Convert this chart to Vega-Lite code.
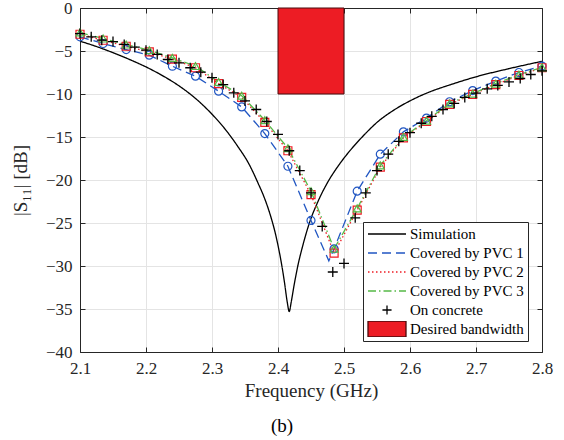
{
  "$schema": "https://vega.github.io/schema/vega-lite/v6.json",
  "width": 462,
  "height": 344,
  "autosize": {"type": "none"},
  "padding": {"left": 80, "top": 8, "right": 22, "bottom": 88},
  "background": "white",
  "title": {"text": "(b)", "orient": "bottom", "anchor": "middle", "dx": -29, "offset": 17, "font": "Liberation Serif", "fontSize": 19, "fontWeight": "normal", "color": "black"},
  "datasets": {
    "sim": [
      {"f": 2.100, "d": -3.86}, {"f": 2.120, "d": -4.35}, {"f": 2.140, "d": -4.9}, {"f": 2.160, "d": -5.5},
      {"f": 2.180, "d": -6.15}, {"f": 2.200, "d": -6.85}, {"f": 2.220, "d": -7.65}, {"f": 2.240, "d": -8.55},
      {"f": 2.260, "d": -9.6}, {"f": 2.280, "d": -10.85}, {"f": 2.300, "d": -12.35}, {"f": 2.320, "d": -14.1},
      {"f": 2.340, "d": -16.2}, {"f": 2.355, "d": -18.0}, {"f": 2.370, "d": -20.4}, {"f": 2.380, "d": -22.2},
      {"f": 2.390, "d": -24.5}, {"f": 2.395, "d": -25.9}, {"f": 2.400, "d": -27.6}, {"f": 2.405, "d": -29.6},
      {"f": 2.410, "d": -32.0}, {"f": 2.414, "d": -34.2}, {"f": 2.417, "d": -35.3}, {"f": 2.420, "d": -34.2},
      {"f": 2.424, "d": -32.4}, {"f": 2.430, "d": -30.0}, {"f": 2.438, "d": -27.5}, {"f": 2.448, "d": -24.9},
      {"f": 2.460, "d": -22.6}, {"f": 2.475, "d": -20.3}, {"f": 2.490, "d": -18.5}, {"f": 2.510, "d": -16.5},
      {"f": 2.530, "d": -14.8}, {"f": 2.550, "d": -13.3}, {"f": 2.575, "d": -11.9}, {"f": 2.600, "d": -10.8},
      {"f": 2.630, "d": -9.75}, {"f": 2.660, "d": -8.95}, {"f": 2.700, "d": -8.0}, {"f": 2.750, "d": -7.05},
      {"f": 2.800, "d": -6.2}
    ],
    "pvc": [
      {"s": "Covered by PVC 1", "f": 2.100, "d": -3.35, "m": 1},
      {"s": "Covered by PVC 1", "f": 2.135, "d": -4.13, "m": 1},
      {"s": "Covered by PVC 1", "f": 2.170, "d": -4.83, "m": 1},
      {"s": "Covered by PVC 1", "f": 2.205, "d": -5.49, "m": 1},
      {"s": "Covered by PVC 1", "f": 2.240, "d": -6.77, "m": 1},
      {"s": "Covered by PVC 1", "f": 2.275, "d": -7.93, "m": 1},
      {"s": "Covered by PVC 1", "f": 2.310, "d": -9.67, "m": 1},
      {"s": "Covered by PVC 1", "f": 2.345, "d": -11.5, "m": 1},
      {"s": "Covered by PVC 1", "f": 2.380, "d": -14.6, "m": 1},
      {"s": "Covered by PVC 1", "f": 2.415, "d": -18.4, "m": 1},
      {"s": "Covered by PVC 1", "f": 2.450, "d": -24.7, "m": 1},
      {"s": "Covered by PVC 1", "f": 2.477, "d": -29.4, "m": 0},
      {"s": "Covered by PVC 1", "f": 2.485, "d": -28.0, "m": 1},
      {"s": "Covered by PVC 1", "f": 2.520, "d": -21.3, "m": 1},
      {"s": "Covered by PVC 1", "f": 2.555, "d": -17.0, "m": 1},
      {"s": "Covered by PVC 1", "f": 2.590, "d": -14.4, "m": 1},
      {"s": "Covered by PVC 1", "f": 2.625, "d": -12.8, "m": 1},
      {"s": "Covered by PVC 1", "f": 2.660, "d": -10.9, "m": 1},
      {"s": "Covered by PVC 1", "f": 2.695, "d": -9.6, "m": 1},
      {"s": "Covered by PVC 1", "f": 2.730, "d": -8.5, "m": 1},
      {"s": "Covered by PVC 1", "f": 2.765, "d": -7.5, "m": 1},
      {"s": "Covered by PVC 1", "f": 2.800, "d": -6.75, "m": 1},
      {"s": "Covered by PVC 2", "f": 2.100, "d": -3.05, "m": 1},
      {"s": "Covered by PVC 2", "f": 2.135, "d": -3.75, "m": 1},
      {"s": "Covered by PVC 2", "f": 2.170, "d": -4.45, "m": 1},
      {"s": "Covered by PVC 2", "f": 2.205, "d": -5.1, "m": 1},
      {"s": "Covered by PVC 2", "f": 2.240, "d": -5.95, "m": 1},
      {"s": "Covered by PVC 2", "f": 2.275, "d": -6.95, "m": 1},
      {"s": "Covered by PVC 2", "f": 2.310, "d": -8.8, "m": 1},
      {"s": "Covered by PVC 2", "f": 2.345, "d": -10.4, "m": 1},
      {"s": "Covered by PVC 2", "f": 2.380, "d": -13.3, "m": 1},
      {"s": "Covered by PVC 2", "f": 2.415, "d": -16.6, "m": 1},
      {"s": "Covered by PVC 2", "f": 2.450, "d": -21.7, "m": 1},
      {"s": "Covered by PVC 2", "f": 2.485, "d": -28.5, "m": 1},
      {"s": "Covered by PVC 2", "f": 2.520, "d": -23.5, "m": 1},
      {"s": "Covered by PVC 2", "f": 2.555, "d": -18.5, "m": 1},
      {"s": "Covered by PVC 2", "f": 2.590, "d": -15.1, "m": 1},
      {"s": "Covered by PVC 2", "f": 2.625, "d": -13.2, "m": 1},
      {"s": "Covered by PVC 2", "f": 2.660, "d": -11.2, "m": 1},
      {"s": "Covered by PVC 2", "f": 2.695, "d": -10.05, "m": 1},
      {"s": "Covered by PVC 2", "f": 2.730, "d": -8.9, "m": 1},
      {"s": "Covered by PVC 2", "f": 2.765, "d": -7.85, "m": 1},
      {"s": "Covered by PVC 2", "f": 2.800, "d": -6.95, "m": 1},
      {"s": "Covered by PVC 3", "f": 2.100, "d": -2.85, "m": 1},
      {"s": "Covered by PVC 3", "f": 2.135, "d": -3.55, "m": 1},
      {"s": "Covered by PVC 3", "f": 2.170, "d": -4.25, "m": 1},
      {"s": "Covered by PVC 3", "f": 2.205, "d": -4.9, "m": 1},
      {"s": "Covered by PVC 3", "f": 2.240, "d": -5.8, "m": 1},
      {"s": "Covered by PVC 3", "f": 2.275, "d": -6.75, "m": 1},
      {"s": "Covered by PVC 3", "f": 2.310, "d": -8.6, "m": 1},
      {"s": "Covered by PVC 3", "f": 2.345, "d": -10.2, "m": 1},
      {"s": "Covered by PVC 3", "f": 2.380, "d": -13.05, "m": 1},
      {"s": "Covered by PVC 3", "f": 2.415, "d": -16.3, "m": 1},
      {"s": "Covered by PVC 3", "f": 2.450, "d": -21.3, "m": 1},
      {"s": "Covered by PVC 3", "f": 2.485, "d": -28.0, "m": 1},
      {"s": "Covered by PVC 3", "f": 2.520, "d": -23.3, "m": 1},
      {"s": "Covered by PVC 3", "f": 2.555, "d": -18.3, "m": 1},
      {"s": "Covered by PVC 3", "f": 2.590, "d": -15.0, "m": 1},
      {"s": "Covered by PVC 3", "f": 2.625, "d": -13.1, "m": 1},
      {"s": "Covered by PVC 3", "f": 2.660, "d": -11.1, "m": 1},
      {"s": "Covered by PVC 3", "f": 2.695, "d": -9.95, "m": 1},
      {"s": "Covered by PVC 3", "f": 2.730, "d": -8.8, "m": 1},
      {"s": "Covered by PVC 3", "f": 2.765, "d": -7.75, "m": 1},
      {"s": "Covered by PVC 3", "f": 2.800, "d": -6.9, "m": 1}
    ],
    "concrete": [
      {"f": 2.100, "d": -2.97}, {"f": 2.117, "d": -3.35}, {"f": 2.133, "d": -3.74}, {"f": 2.150, "d": -3.9},
      {"f": 2.167, "d": -4.24}, {"f": 2.183, "d": -4.55}, {"f": 2.200, "d": -4.9}, {"f": 2.217, "d": -5.4},
      {"f": 2.233, "d": -5.99}, {"f": 2.250, "d": -6.37}, {"f": 2.267, "d": -6.95}, {"f": 2.283, "d": -7.46},
      {"f": 2.300, "d": -8.1}, {"f": 2.317, "d": -8.9}, {"f": 2.333, "d": -9.86}, {"f": 2.350, "d": -10.8},
      {"f": 2.367, "d": -11.8}, {"f": 2.383, "d": -13.2}, {"f": 2.400, "d": -14.7}, {"f": 2.417, "d": -16.6},
      {"f": 2.433, "d": -18.9}, {"f": 2.450, "d": -21.5}, {"f": 2.467, "d": -25.4}, {"f": 2.483, "d": -30.7},
      {"f": 2.500, "d": -29.7}, {"f": 2.517, "d": -24.4}, {"f": 2.533, "d": -21.5}, {"f": 2.550, "d": -18.9},
      {"f": 2.567, "d": -17.0}, {"f": 2.583, "d": -15.5}, {"f": 2.600, "d": -14.5}, {"f": 2.617, "d": -13.4},
      {"f": 2.633, "d": -12.6}, {"f": 2.650, "d": -11.8}, {"f": 2.667, "d": -11.1}, {"f": 2.683, "d": -10.4},
      {"f": 2.700, "d": -9.9}, {"f": 2.717, "d": -9.4}, {"f": 2.733, "d": -9.0}, {"f": 2.750, "d": -8.6},
      {"f": 2.767, "d": -8.2}, {"f": 2.783, "d": -7.73}, {"f": 2.800, "d": -7.3}
    ]
  },
  "resolve": {"axis": {"x": "independent", "y": "independent"}},
  "layer": [
    {
      "data": {"values": [{"f1": 2.4, "f2": 2.5, "d1": 0, "d2": -10}]},
      "mark": {"type": "rect", "fill": "#ED1C24", "stroke": "#4a0a0c", "strokeWidth": 1},
      "encoding": {
        "x": {"field": "f1", "type": "quantitative", "scale": {"domain": [2.1, 2.8], "nice": false, "zero": false},
              "axis": {"title": "Frequency (GHz)", "values": [2.1, 2.2, 2.3, 2.4, 2.5, 2.6, 2.7, 2.8], "format": ".1f", "grid": true, "tickSize": -5, "labelPadding": 13, "titlePadding": 5, "labelFlush": false}},
        "x2": {"field": "f2"},
        "y": {"field": "d1", "type": "quantitative", "scale": {"domain": [-40, 0], "nice": false, "zero": false},
              "axis": {"title": "|S₁₁| [dB]", "values": [-40, -35, -30, -25, -20, -15, -10, -5, 0], "format": "d", "grid": true, "tickSize": -5, "labelPadding": 13, "titlePadding": 15, "labelFlush": false}},
        "y2": {"field": "d2"}
      }
    },
    {
      "data": {"name": "sim"},
      "mark": {"type": "line", "strokeWidth": 1.3, "interpolate": "monotone"},
      "encoding": {
        "x": {"field": "f", "type": "quantitative", "axis": {"orient": "top", "labels": false, "title": null, "grid": false, "tickSize": -5, "values": [2.1, 2.2, 2.3, 2.4, 2.5, 2.6, 2.7, 2.8]}},
        "y": {"field": "d", "type": "quantitative", "axis": {"orient": "right", "labels": false, "title": null, "grid": false, "tickSize": -5, "values": [-40, -35, -30, -25, -20, -15, -10, -5, 0]}},
        "color": {"datum": "Simulation", "type": "nominal", "title": null,
          "scale": {"domain": ["Simulation", "Covered by PVC 1", "Covered by PVC 2", "Covered by PVC 3", "On concrete", "Desired bandwidth"],
                    "range": ["#000000", "#2156c2", "#ee1c24", "#55b947", "#000000", "#4a0a0c"]},
          "legend": {
            "title": null, "orient": "none", "legendX": 283, "legendY": 214,
            "labelFont": "Liberation Serif", "labelFontSize": 15, "labelColor": "black", "labelOffset": 3,
            "strokeColor": "#262626", "fillColor": "white", "padding": 4, "rowPadding": 3, "cornerRadius": 0,
            "clipHeight": 16,
            "symbolSize": 1444, "symbolStrokeWidth": 1.3, "symbolType": "M-1,0H1",
            "encode": {"symbols": {"update": {
              "shape": {"signal": "datum.value === 'On concrete' ? 'M-0.24,0H0.24M0,-0.24V0.24' : datum.value === 'Desired bandwidth' ? 'M-1,-0.42H1V0.42H-1Z' : 'M-1,0H1'"},
              "fill": {"signal": "datum.value === 'Desired bandwidth' ? '#ED1C24' : 'transparent'"},
              "fillOpacity": {"value": 1}
            }}}
          }},
        "strokeDash": {"datum": "Simulation", "type": "nominal", "title": null,
          "scale": {"domain": ["Simulation", "Covered by PVC 1", "Covered by PVC 2", "Covered by PVC 3", "On concrete", "Desired bandwidth"],
                    "range": [[1, 0], [9, 5], [1.5, 2.5], [8, 3, 1.5, 3], [1, 0], [1, 0]]}}
      }
    },
    {
      "data": {"name": "pvc"},
      "mark": {"type": "line", "strokeWidth": 1.3},
      "encoding": {
        "x": {"field": "f", "type": "quantitative", "axis": null},
        "y": {"field": "d", "type": "quantitative", "axis": null},
        "color": {"field": "s", "type": "nominal", "title": null},
        "strokeDash": {"field": "s", "type": "nominal", "title": null}
      }
    },
    {
      "data": {"name": "pvc"},
      "transform": [{"filter": "datum.m == 1"}],
      "mark": {"type": "point", "filled": false, "strokeWidth": 1.2, "size": 64, "opacity": 1},
      "encoding": {
        "x": {"field": "f", "type": "quantitative", "axis": null},
        "y": {"field": "d", "type": "quantitative", "axis": null},
        "color": {"field": "s", "type": "nominal", "title": null},
        "shape": {"field": "s", "type": "nominal", "legend": null, "title": null,
          "scale": {"domain": ["Covered by PVC 1", "Covered by PVC 2", "Covered by PVC 3"], "range": ["circle", "square", "triangle-up"]}}
      }
    },
    {
      "data": {"name": "concrete"},
      "mark": {"type": "point", "filled": false, "shape": "M-1,0H1M0,-1V1", "size": 100, "strokeWidth": 1.3, "opacity": 1},
      "encoding": {
        "x": {"field": "f", "type": "quantitative", "axis": null},
        "y": {"field": "d", "type": "quantitative", "axis": null},
        "color": {"datum": "On concrete", "type": "nominal", "title": null}
      }
    }
  ],
  "config": {
    "view": {"stroke": null},
    "font": "Liberation Serif",
    "legend": {"labelFont": "Liberation Serif", "labelFontSize": 15, "labelColor": "black"},
    "axis": {
      "labelFont": "Liberation Serif", "labelFontSize": 17, "labelColor": "#262626",
      "titleFont": "Liberation Serif", "titleFontSize": 19, "titleFontWeight": "normal", "titleColor": "#262626",
      "domainColor": "#262626", "tickColor": "#262626", "gridColor": "#e4e4e4", "domainWidth": 1, "tickWidth": 1
    }
  }
}
